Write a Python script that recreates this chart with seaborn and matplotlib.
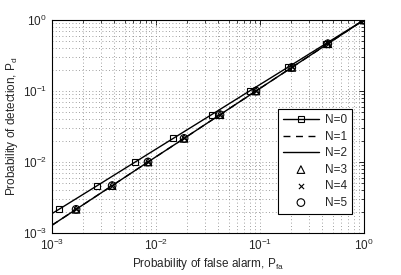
import pandas as pd
import seaborn as sns
import matplotlib
matplotlib.use("Agg")
import matplotlib.pyplot as plt

# ROC curves (Pfa, Pd), first point is the line start at Pfa=1e-3
pfa_n0 = [1e-3, 1.17e-3, 2.73e-3, 6.34e-3, 1.47e-2, 3.43e-2, 7.96e-2, 0.185, 0.430, 1.0]
pd_n0 = [1.87e-3, 2.15e-3, 4.64e-3, 1e-2, 2.15e-2, 4.64e-2, 0.1, 0.215, 0.464, 1.0]

pfa_n1 = [1e-3, 1.71e-3, 3.80e-3, 8.41e-3, 1.87e-2, 4.14e-2, 9.18e-2, 0.203, 0.451, 1.0]
pd_n1 = [1.28e-3, 2.15e-3, 4.64e-3, 1e-2, 2.15e-2, 4.64e-2, 0.1, 0.215, 0.464, 1.0]

# N=2..5 give the same curve as N=1
pfa_n2 = pfa_n1
pd_n2 = pd_n1
pfa_mk = pfa_n1[1:]
pd_mk = pd_n1[1:]

sns.set_style("white")
plt.rcParams['font.family'] = ['Liberation Sans', 'DejaVu Sans']
plt.rcParams['mathtext.fontset'] = 'custom'
plt.rcParams['mathtext.rm'] = 'Liberation Sans'
plt.rcParams['mathtext.it'] = 'Liberation Sans:italic'

fig = plt.figure(figsize=(4.02, 2.75), dpi=100)
ax = fig.add_axes([0.129, 0.153, 0.776, 0.774])

df0 = pd.DataFrame({'pfa': pfa_n0, 'pd': pd_n0})
df1 = pd.DataFrame({'pfa': pfa_n1, 'pd': pd_n1})
df2 = pd.DataFrame({'pfa': pfa_n2, 'pd': pd_n2})
dfm = pd.DataFrame({'pfa': pfa_mk, 'pd': pd_mk})

sns.lineplot(data=df0, x='pfa', y='pd', ax=ax, color='k', lw=1, marker='s',
             markersize=5, mfc='none', mec='k', mew=0.8, markevery=slice(1, None),
             label='N=0', sort=False)
sns.lineplot(data=df1, x='pfa', y='pd', ax=ax, color='k', lw=1, dashes=(5, 4),
             label='N=1', sort=False)
sns.lineplot(data=df2, x='pfa', y='pd', ax=ax, color='k', lw=1,
             label='N=2', sort=False)
sns.scatterplot(data=dfm, x='pfa', y='pd', ax=ax, marker='^', s=30,
                facecolor='none', edgecolor='k', linewidth=0.8, label='N=3')
sns.scatterplot(data=dfm, x='pfa', y='pd', ax=ax, marker='x', s=14,
                color='k', linewidth=0.8, label='N=4')
sns.scatterplot(data=dfm, x='pfa', y='pd', ax=ax, marker='o', s=30,
                facecolor='none', edgecolor='k', linewidth=0.8, label='N=5')

ax.set_xscale('log')
ax.set_yscale('log')
ax.set_xlim(1e-3, 1)
ax.set_ylim(1e-3, 1)

ax.grid(True, which='both', linestyle=(0, (1, 3)), color='0.5', linewidth=0.6)
ax.tick_params(which='both', direction='in', top=True, right=True, labelsize=8.5,
               color='k')
ax.tick_params(which='major', length=3.5, width=0.6)
ax.tick_params(which='minor', length=2, width=0.5)
for s in ax.spines.values():
    s.set_color('k')
    s.set_linewidth(0.8)

ax.set_xlabel(r'Probability of false alarm, P$_\mathrm{fa}$', fontsize=8.5, labelpad=2)
ax.set_ylabel(r'Probability of detection, P$_\mathrm{d}$', fontsize=8.5, labelpad=2)

leg = ax.legend(loc='lower right', fontsize=8.5, frameon=True, fancybox=False,
                edgecolor='k', framealpha=1, handlelength=3.0, labelspacing=0.38,
                borderpad=0.45, handletextpad=0.5, borderaxespad=0,
                bbox_to_anchor=(0.962, 0.089))
leg.get_frame().set_linewidth(0.8)

fig.savefig('out.png', dpi=100)
